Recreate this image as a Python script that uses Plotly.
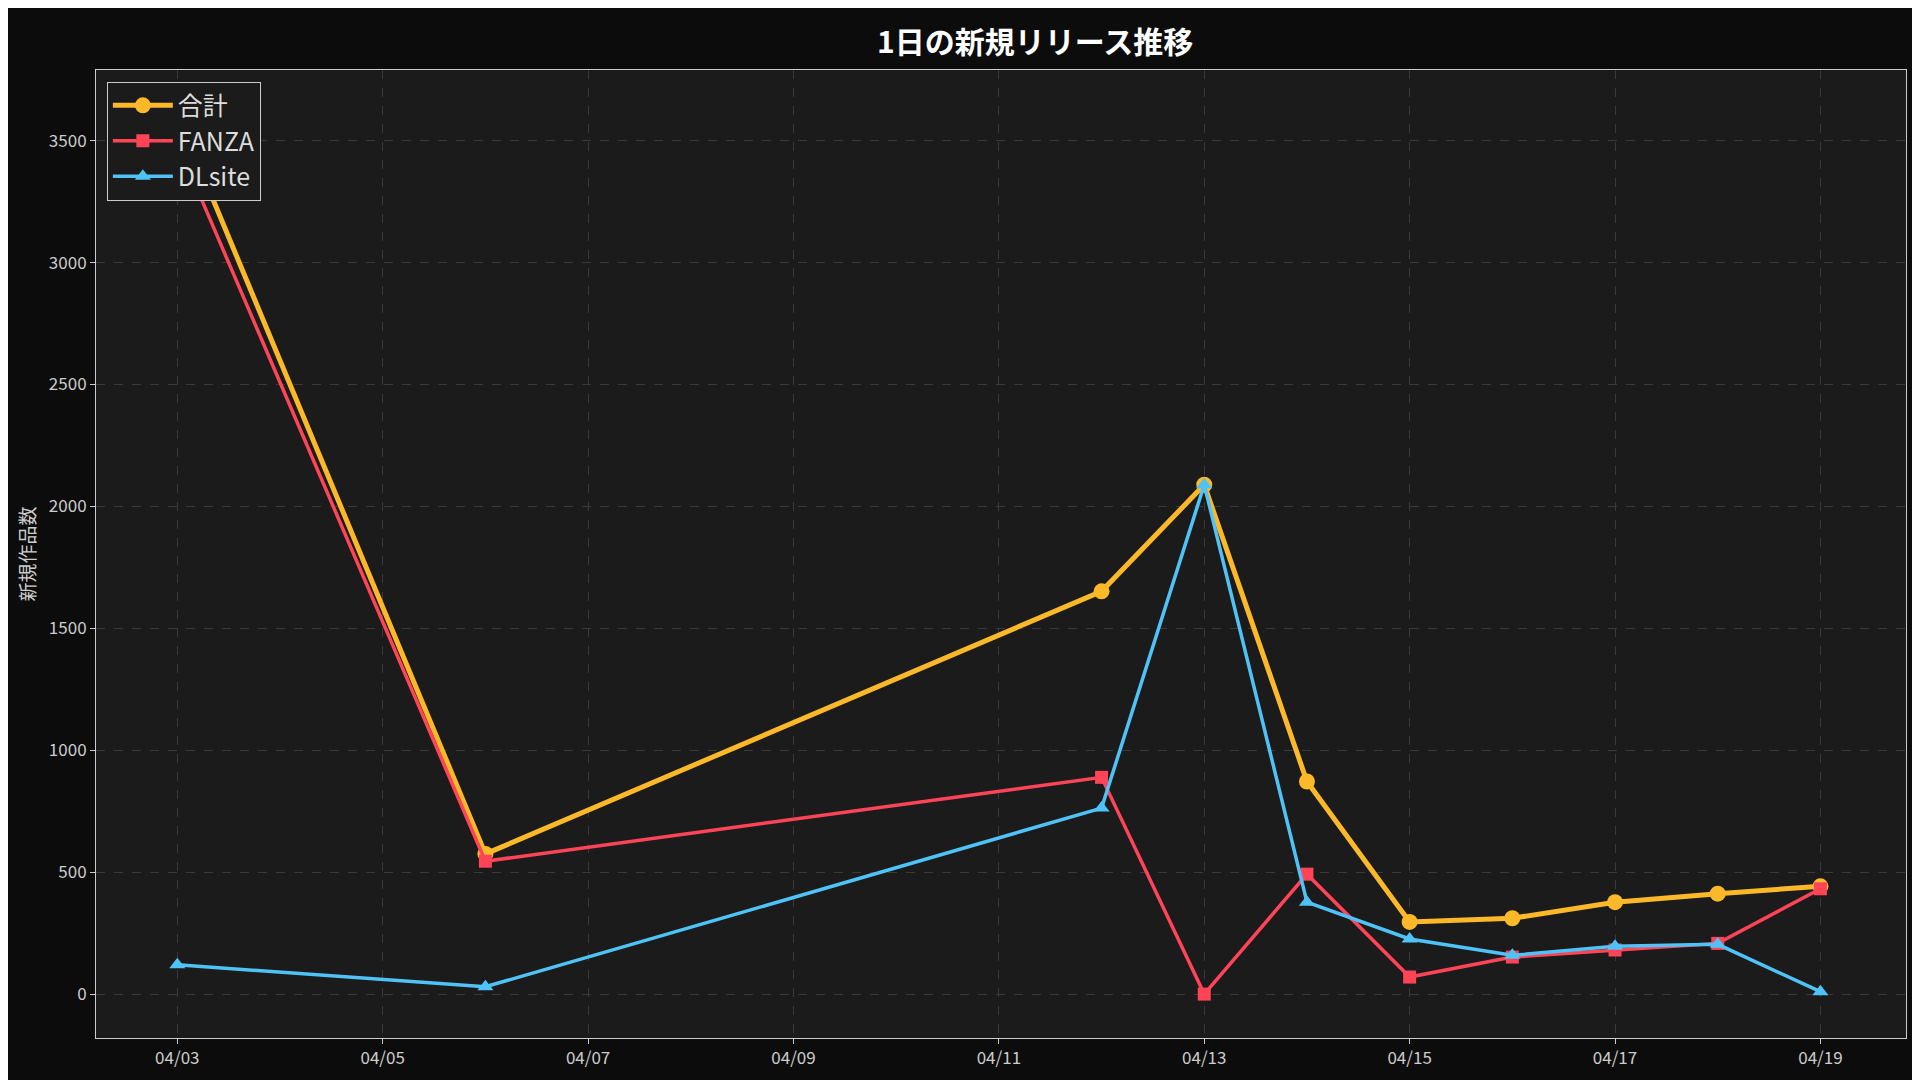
import plotly.graph_objects as go

dates = ["2025-04-03", "2025-04-06", "2025-04-12", "2025-04-13", "2025-04-14",
         "2025-04-15", "2025-04-16", "2025-04-17", "2025-04-18", "2025-04-19"]
total = [3611, 575, 1652, 2089, 872, 296, 311, 377, 412, 442]
fanza = [3491, 545, 889, 0, 492, 70, 152, 181, 208, 432]
dlsite = [120, 30, 763, 2089, 377, 226, 159, 196, 204, 10]

tick_vals = ["2025-04-03", "2025-04-05", "2025-04-07", "2025-04-09", "2025-04-11",
             "2025-04-13", "2025-04-15", "2025-04-17", "2025-04-19"]
tick_text = ["04/03", "04/05", "04/07", "04/09", "04/11", "04/13", "04/15", "04/17", "04/19"]

FONT = "Noto Sans CJK JP"

fig = go.Figure()
fig.add_trace(go.Scatter(x=dates, y=total, name="合計", mode="lines+markers",
                         line=dict(color="#fbb829", width=5),
                         marker=dict(symbol="circle", size=16, color="#fbb829")))
fig.add_trace(go.Scatter(x=dates, y=fanza, name="FANZA", mode="lines+markers",
                         line=dict(color="#ff4458", width=3.5),
                         marker=dict(symbol="square", size=13, color="#ff4458")))
fig.add_trace(go.Scatter(x=dates, y=dlsite, name="DLsite", mode="lines+markers",
                         line=dict(color="#4fc3f7", width=3.5),
                         marker=dict(symbol="triangle-up", size=14, color="#4fc3f7")))

fig.update_layout(
    width=1920, height=1080,
    paper_bgcolor="#0c0c0c", plot_bgcolor="#1b1b1b",
    font=dict(family=FONT, color="#dddddd", size=17),
    title=dict(text="<b>1日の新規リリース推移</b>", x=0.535, xanchor="center", y=0.978,
               font=dict(size=30, color="white")),
    margin=dict(l=88, r=22, t=62, b=50),
    showlegend=True,
    legend=dict(x=0.006, y=0.988, xanchor="left", yanchor="top",
                bgcolor="#1b1b1b", bordercolor="#cccccc", borderwidth=1,
                itemwidth=60, tracegroupgap=2,
                font=dict(size=25, color="#dddddd")),
)
fig.update_xaxes(type="date", range=["2025-04-02 05:00", "2025-04-19 20:00"],
                 tickvals=tick_vals, ticktext=tick_text, ticks="outside",
                 tickcolor="#cccccc", tickfont=dict(size=17, color="#cccccc"),
                 showgrid=True, gridcolor="#3a3a3a", griddash="dash", gridwidth=1,
                 showline=True, linecolor="#cccccc", mirror=True, zeroline=False)
fig.update_yaxes(range=[-180, 3790], tickvals=[0, 500, 1000, 1500, 2000, 2500, 3000, 3500],
                 ticks="outside", tickcolor="#cccccc", tickfont=dict(size=17, color="#cccccc"),
                 title=dict(text="新規作品数", font=dict(size=19, color="#cccccc"), standoff=8),
                 showgrid=True, gridcolor="#3a3a3a", griddash="dash", gridwidth=1,
                 showline=True, linecolor="#cccccc", mirror=True, zeroline=False)

fig.write_html("out.html")
